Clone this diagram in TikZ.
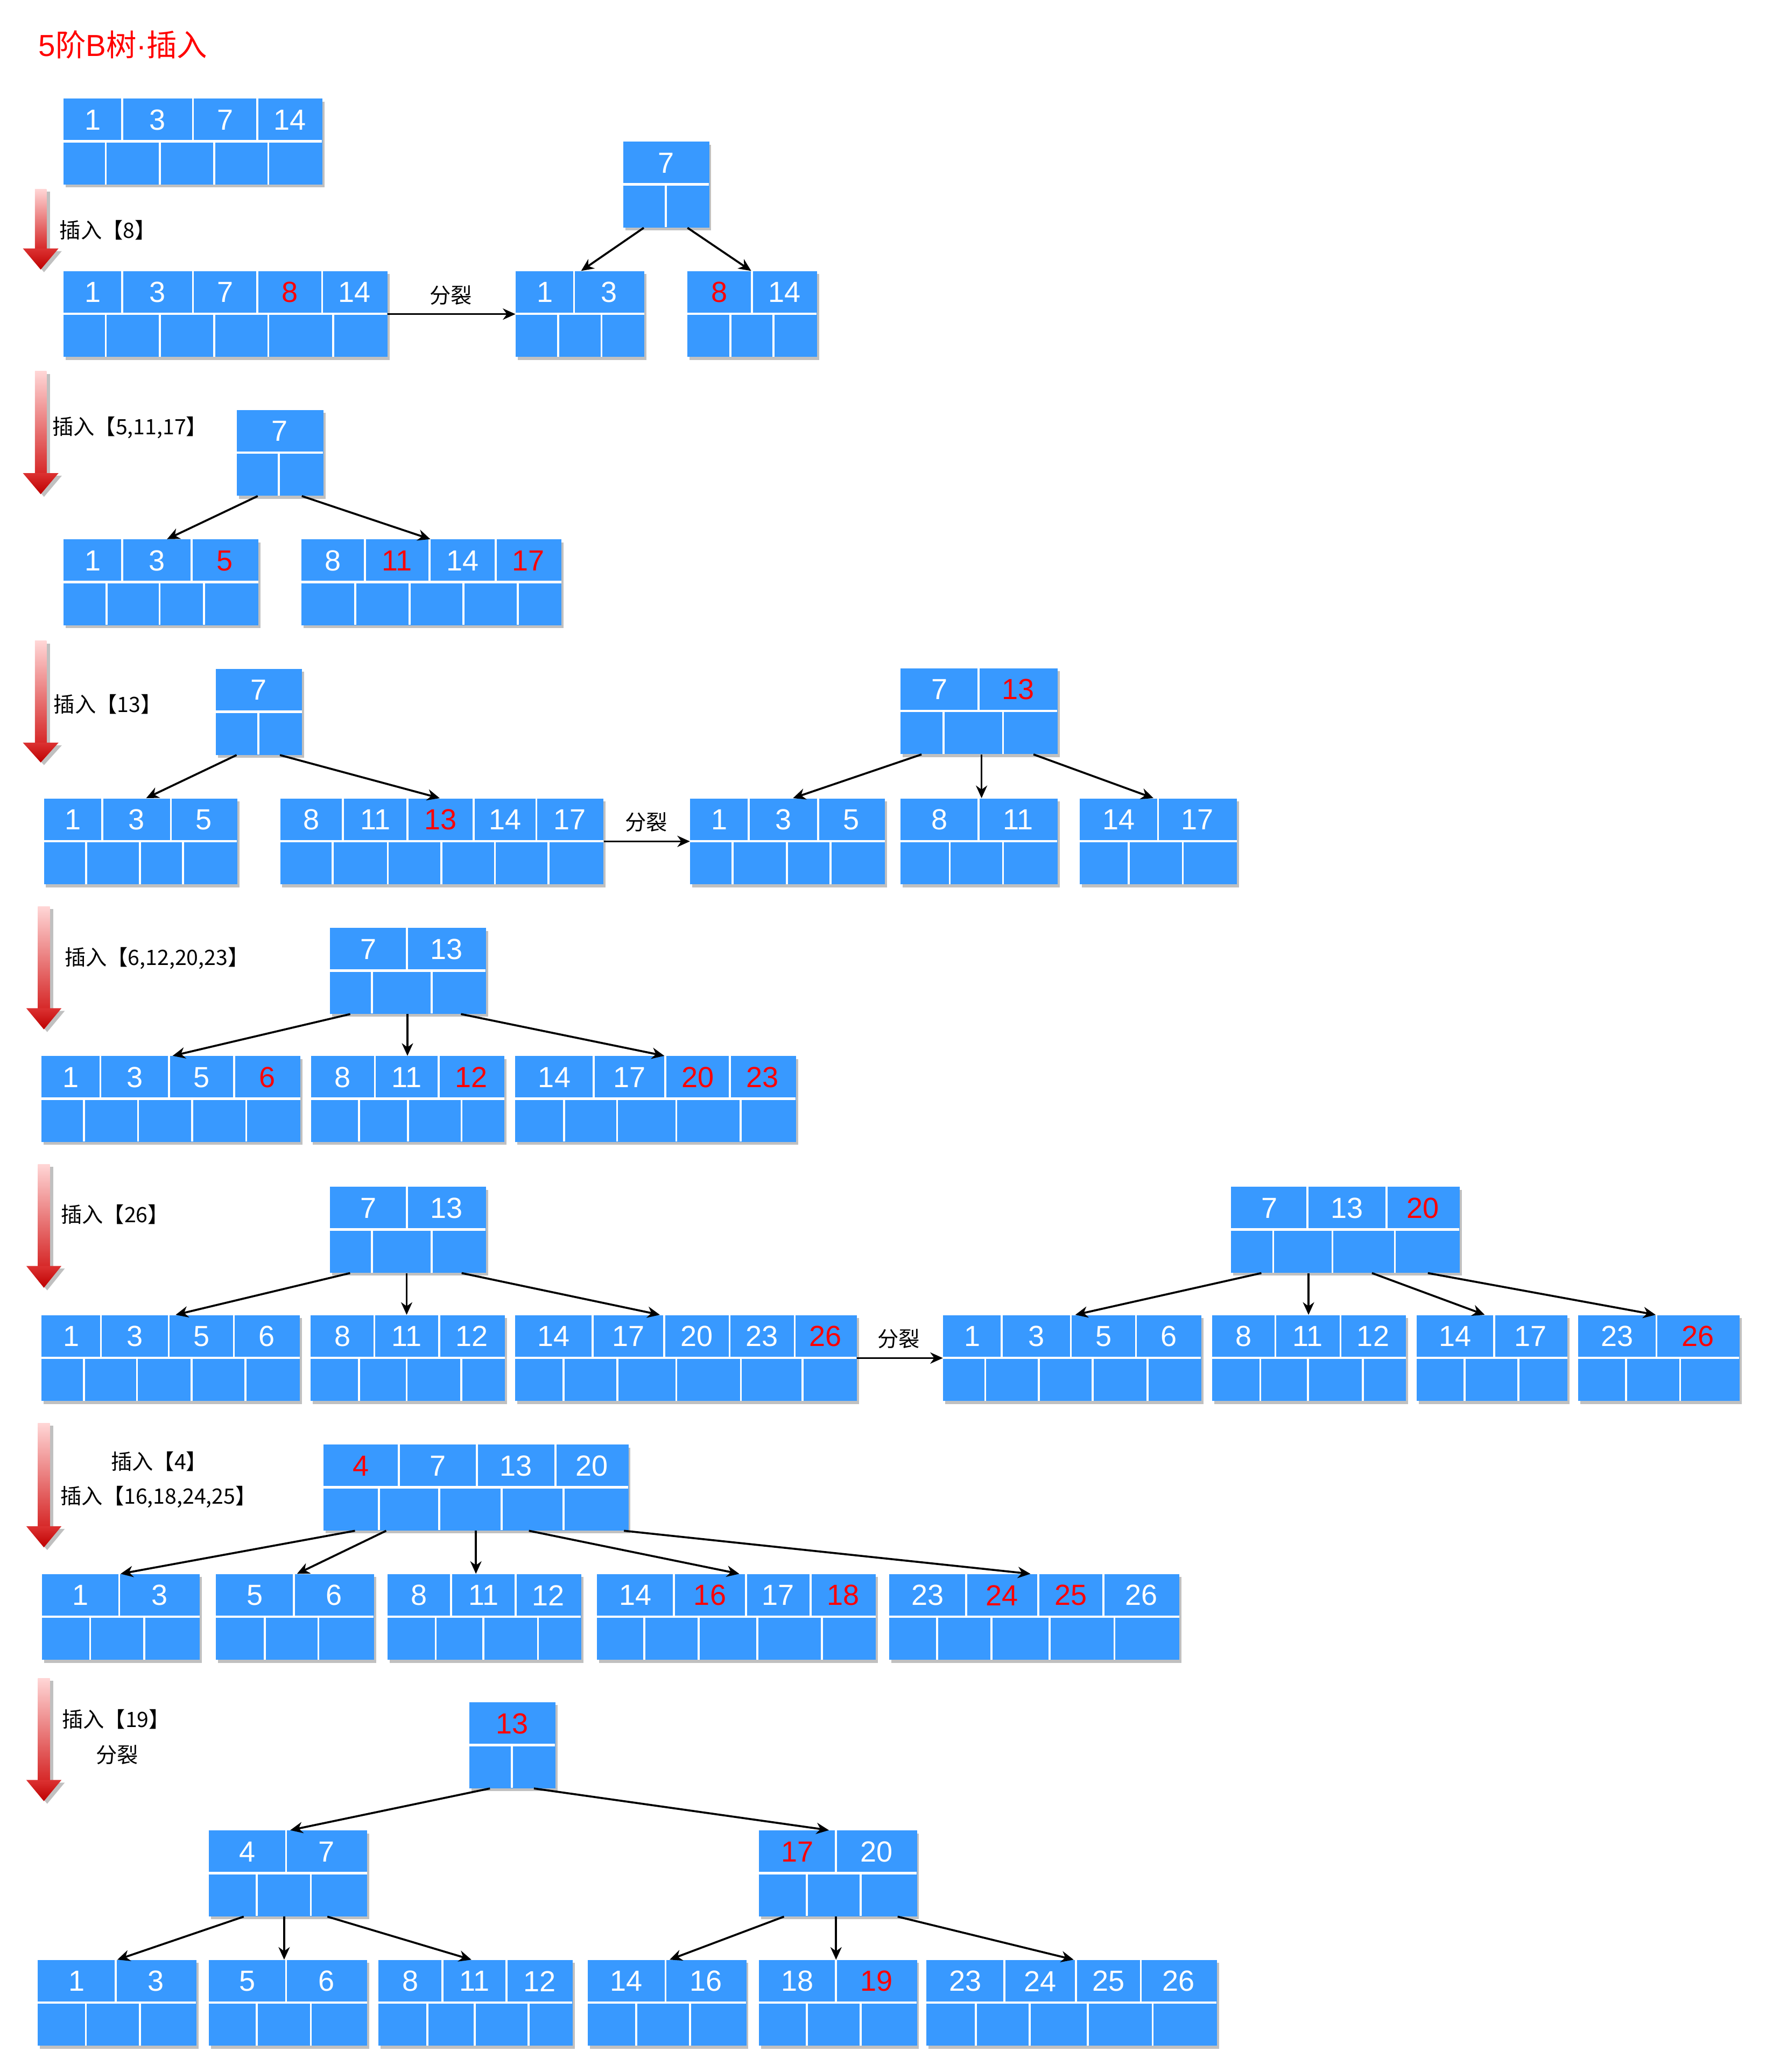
\documentclass[tikz,border=0pt]{standalone}
\usepackage{fontspec}
\newfontfamily\numfont{Liberation Sans}
\newfontfamily\cjkfont{Noto Sans CJK SC}
\usetikzlibrary{arrows.meta,shadows}
\definecolor{nodeblue}{RGB}{56,153,255}
\definecolor{shgrey}{RGB}{192,192,192}
\definecolor{keyred}{RGB}{255,0,0}
\definecolor{arrtop}{RGB}{255,214,214}
\definecolor{arrmid}{RGB}{214,40,40}
\definecolor{headtop}{RGB}{220,50,50}
\definecolor{headbot}{RGB}{190,0,0}
\newcommand\redk[1]{\textcolor{keyred}{#1}}
\tikzset{
  btbox/.style={rectangle, fill=nodeblue, draw=none, inner sep=0pt, anchor=north west,
    drop shadow={shadow xshift=1.6pt, shadow yshift=-2.2pt, fill=shgrey, opacity=1}},
  keytxt/.style={text=white, font=\numfont\fontsize{22}{24}\selectfont, inner sep=0pt},
  sepline/.style={white, line width=1.5pt},
  hsep/.style={white, line width=1.9pt},
  conn/.style={black, line width=1.5pt, -{Stealth[length=9.5pt,width=8.5pt,inset=3pt]}},
  lbl/.style={font=\cjkfont\fontsize{16}{18}\selectfont, inner sep=0pt, anchor=west},
}
% #1 name, #2 x1, #3 x2, #4 top y, #5 key cells l/r/text, #6 pointer dividers
\newcommand\btnode[6]{%
  \node[btbox, minimum width={(#3)-(#2)}, minimum height=65] (#1) at (#2,#4) {};
  \foreach \kl/\kr/\kt in {#5}{%
    \node[keytxt] at ({(\kl+\kr)/2},#4+16.25) {\kt};
    \pgfmathtruncatemacro\isin{\kr<(#3)-0.5}%
    \ifnum\isin=1 \draw[sepline] (\kr,#4) -- (\kr,#4+32.5);\fi
  }
  \draw[hsep] (#2,#4+32.5) -- (#3,#4+32.5);
  \foreach \pp in {#6}{\draw[sepline] (\pp,#4+32.5) -- (\pp,#4+65);}
}
% #1 cx, #2 top, #3 head base, #4 tip, #5 half shaft, #6 half head
\newcommand\redarrow[6]{%
  \fill[shgrey] (#1-#5+2.5,#2+2) rectangle (#1+#5+2.5,#3+2);
  \fill[shgrey] (#1-#6+2.5,#3+2) -- (#1+#6+2.5,#3+2) -- (#1+2.5,#4+2) -- cycle;
  \shade[top color=arrtop, bottom color=arrmid] (#1-#5,#2) rectangle (#1+#5,#3+0.5);
  \shade[top color=headtop, bottom color=headbot] (#1-#6,#3) -- (#1+#6,#3) -- (#1,#4) -- cycle;
}
\begin{document}
\begin{tikzpicture}[x=1pt,y=-1pt]
\useasboundingbox (0,0) rectangle (1336,1568);

% title
\node[font=\cjkfont\fontsize{23}{26}\selectfont, text=keyred, inner sep=0pt, anchor=west] (title) at (29,34) {{\numfont 5}阶{\numfont B}树{\numfont ·}插入};

% red step arrows
\redarrow{30.8}{143}{188}{204}{4.4}{13.5}
\redarrow{30.8}{281}{358}{374}{4.4}{13.5}
\redarrow{30.8}{485}{562}{577}{4.4}{13.5}
\redarrow{33.2}{686}{763}{779}{4.5}{13.3}
\redarrow{33.2}{881}{958}{974.5}{4.5}{13.3}
\redarrow{33.2}{1077}{1155}{1171}{4.5}{13.3}
\redarrow{33.2}{1270}{1347}{1363}{4.5}{13.3}

% step labels
\node[lbl] (t1) at (45,174) {插入【8】};
\node[lbl] (t2) at (39.4,323.5) {插入【5,11,17】};
\node[lbl] (t3) at (40.5,533) {插入【13】};
\node[lbl] (t4) at (48.7,725) {插入【6,12,20,23】};
\node[lbl] (t5) at (45.9,919) {插入【26】};
\node[lbl] (t6a) at (83.8,1106) {插入【4】};
\node[lbl] (t6b) at (45.6,1133) {插入【16,18,24,25】};
\node[lbl] (t7a) at (46.7,1301) {插入【19】};
\node[lbl] (t7b) at (72.3,1328) {分裂};

% row 0
\btnode{A}{48}{243.7}{74.5}{48/92.5/1, 92.5/146/3, 146/194.6/7, 194.6/243.7/14}{80,121,162,203}
% row 1
\btnode{B}{48}{293}{205}{48/92.5/1, 92.5/146/3, 146/194.6/7, 194.6/243.7/\redk{8}, 243.7/293/14}{80,121,162,203,252}
\btnode{E}{471.3}{536.4}{107}{471.3/536.4/7}{503.9}
\btnode{C}{390}{487.5}{205}{390/434.4/1, 434.4/487.5/3}{422.4,455.1}
\btnode{D}{520}{618}{205}{520/569/\redk{8}, 569/618/14}{552.6,585.3}
% row 2
\btnode{F}{179}{244.5}{310}{179/244.5/7}{211}
\btnode{G}{48}{195.4}{408}{48/92.5/1, 92.5/145/3, 145/195.4/\redk{5}}{80.5,120.7,154.3}
\btnode{H}{228}{424.7}{408}{228/276/8, 276/325/\redk{11}, 325/375/14, 375/424.7/\redk{17}}{268.7,310,350.6,391.7}
% row 3
\btnode{I}{163.2}{228.3}{506}{163.2/228.3/7}{195.6}
\btnode{J}{33}{179.4}{604}{33/77.3/1, 77.3/129.3/3, 129.3/179.4/5}{65.1,105.9,138.6}
\btnode{K}{211.8}{456.4}{604}{211.8/259.5/8, 259.5/308.4/11, 308.4/358.3/\redk{13}, 358.3/405.9/14, 405.9/456.4/17}{251.7,293.5,334,374.5,415}
\btnode{M}{681}{800}{505.5}{681/740.5/7, 740.5/800/\redk{13}}{713.9,759}
\btnode{L}{522}{669.4}{604}{522/566.5/1, 566.5/619/3, 619/669.4/5}{554.3,595.4,628.3}
\btnode{N}{681}{800}{604}{681/740.5/8, 740.5/800/11}{718.6,759}
\btnode{O}{816.7}{935.8}{604}{816.7/876.2/14, 876.2/935.8/17}{854,895}
% row 4
\btnode{P}{249.4}{367.5}{702}{249.4/307.9/7, 307.9/367.5/13}{281.4,326.6}
\btnode{Q}{31.2}{227.2}{799}{31.2/76/1, 76/127.8/3, 127.8/177.3/5, 177.3/227.2/\redk{6}}{63.5,104.4,145.4,186.3}
\btnode{R}{235}{381.5}{799}{235/283.7/8, 283.7/332/11, 332/381.5/\redk{12}}{271.6,308.6,349.2}
\btnode{S}{389.7}{602}{799}{389.7/449.3/14, 449.3/503.5/17, 503.5/552.2/\redk{20}, 552.2/602/\redk{23}}{426.7,466.9,511.7,560.4}
% row 5
\btnode{P5}{249.4}{367.5}{898}{249.4/307.9/7, 307.9/367.5/13}{281.4,326.6}
\btnode{Q5}{31.3}{226.7}{995}{31.3/76.3/1, 76.3/127.7/3, 127.7/177/5, 177/226.7/6}{63.4,103.7,144.9,185.6}
\btnode{R5}{234.9}{381.9}{995}{234.9/283.3/8, 283.3/332.2/11, 332.2/381.9/12}{271.7,307.7,348.9}
\btnode{S5}{389.6}{648}{995}{389.6/448.3/14, 448.3/502.7/17, 502.7/552/20, 552/601.3/23, 601.3/648/\redk{26}}{426.4,467.2,511.7,560.6,607.3}
\btnode{U}{931.4}{1104.2}{898}{931.4/989.3/7, 989.3/1049.2/13, 1049.2/1104.2/\redk{20}}{963.4,1008.2,1055.4}
\btnode{T}{713.4}{908.8}{995}{713.4/757.8/1, 757.8/810.3/3, 810.3/859.6/5, 859.6/908.8/6}{745.5,786.1,826.7,868.2}
\btnode{V}{917}{1063.6}{995}{917/965/8, 965/1014.3/11, 1014.3/1063.6/12}{953.6,989.7,1031.2}
\btnode{W}{1071.8}{1185.9}{995}{1071.8/1130.5/14, 1130.5/1185.9/17}{1108.3,1149}
\btnode{X}{1194.1}{1316}{995}{1194.1/1253.3/23, 1253.3/1316/\redk{26}}{1230.3,1271.3}
% row 6
\btnode{Y}{244.6}{475.3}{1093}{244.6/301.7/\redk{4}, 301.7/360.8/7, 360.8/420.3/13, 420.3/475.3/20}{286.8,332.4,379.7,426.4}
\btnode{Ya}{31.4}{151}{1191}{31.4/90.2/1, 90.2/151/3}{68.2,109.1}
\btnode{Yb}{163.2}{282.8}{1191}{163.2/222.3/5, 222.3/282.8/6}{200.3,240.9}
\btnode{Yc}{292.9}{439.5}{1191}{292.9/341.4/8, 341.4/390.3/11, 390.3/439.5/12}{329.7,365.6,407}
\btnode{Yd}{451.4}{662.5}{1191}{451.4/510/14, 510/564.4/\redk{16}, 564.4/613.4/17, 613.4/662.5/\redk{18}}{487.5,528.6,573.1,621.8}
\btnode{Ye}{672.5}{892.3}{1191}{672.5/731/23, 731/785.5/\redk{24}, 785.5/835/\redk{25}, 835/892.3/26}{709,750.2,794.2,843.3}
% row 7
\btnode{Z}{354.8}{420}{1288}{354.8/420/\redk{13}}{387.2}
\btnode{ZL}{158}{277.6}{1385}{158/216.5/4, 216.5/277.6/7}{194.4,235.2}
\btnode{ZR}{574.1}{693.6}{1385}{574.1/632.6/\redk{17}, 632.6/693.6/20}{610.5,651.2}
\btnode{Z1}{28.3}{148.3}{1483}{28.3/87.5/1, 87.5/148.3/3}{65,106}
\btnode{Z2}{158}{277.6}{1483}{158/216.5/5, 216.5/277.6/6}{194.4,235.2}
\btnode{Z3}{286.3}{433}{1483}{286.3/334.9/8, 334.9/383.2/11, 383.2/433/12}{323.4,359.2,400}
\btnode{Z4}{444.4}{564.5}{1483}{444.4/503.6/14, 503.6/564.5/16}{481.5,522.1}
\btnode{Z5}{574.1}{693.6}{1483}{574.1/632.6/18, 632.6/693.6/\redk{19}}{610.5,651.2}
\btnode{Z6}{700.7}{920.5}{1483}{700.7/759.9/23, 759.9/814.2/24, 814.2/863.2/25, 863.2/920.5/26}{738.4,779,823.2,872.2}

% split arrows and labels
\draw[conn] (B.east) -- (C.west);
\node[lbl, anchor=center] (s1) at (341,223.5) {分裂};
\draw[conn] (K.east) -- (L.west);
\node[lbl, anchor=center] (s3) at (489,622) {分裂};
\draw[conn] (S5.east) -- (T.west);
\node[lbl, anchor=center] (s5) at (680,1013) {分裂};

% tree connectors
\draw[conn] (E.south -| 487.1,0) -- (C.north -| 439.7,0);
\draw[conn] (E.south -| 520.2,0) -- (D.north -| 568.4,0);

\draw[conn] (F.south -| 195,0) -- (G.north -| 126.4,0);
\draw[conn] (F.south -| 228.4,0) -- (H.north -| 325.6,0);

\draw[conn] (I.south -| 179,0) -- (J.north -| 110.6,0);
\draw[conn] (I.south -| 211.8,0) -- (K.north -| 332.7,0);
\draw[conn] (M.south -| 697.3,0) -- (L.north -| 600,0);
\draw[conn] (M.south -| 742.7,0) -- (N.north -| 742.7,0);
\draw[conn] (M.south -| 782,0) -- (O.north -| 872.8,0);

\draw[conn] (P.south -| 265,0) -- (Q.north -| 130.6,0);
\draw[conn] (P.south -| 308.3,0) -- (R.north -| 308.3,0);
\draw[conn] (P.south -| 348.8,0) -- (S.north -| 502.7,0);

\draw[conn] (P5.south -| 264.9,0) -- (Q5.north -| 132.9,0);
\draw[conn] (P5.south -| 307.7,0) -- (R5.north -| 307.7,0);
\draw[conn] (P5.south -| 349.3,0) -- (S5.north -| 499.3,0);
\draw[conn] (U.south -| 954.4,0) -- (T.north -| 813.6,0);
\draw[conn] (U.south -| 990.1,0) -- (V.north -| 990.1,0);
\draw[conn] (U.south -| 1038.1,0) -- (W.north -| 1123.5,0);
\draw[conn] (U.south -| 1080.4,0) -- (X.north -| 1252.8,0);

\draw[conn] (Y.south -| 268.6,0) -- (Ya.north -| 91.2,0);
\draw[conn] (Y.south -| 292.2,0) -- (Yb.north -| 224.7,0);
\draw[conn] (Y.south -| 360.1,0) -- (Yc.north -| 360.1,0);
\draw[conn] (Y.south -| 400.2,0) -- (Yd.north -| 559.4,0);
\draw[conn] (Y.south -| 472.1,0) -- (Ye.north -| 779.7,0);

\draw[conn] (Z.south -| 370.7,0) -- (ZL.north -| 219.6,0);
\draw[conn] (Z.south -| 404,0) -- (ZR.north -| 627.2,0);
\draw[conn] (ZL.south -| 184.4,0) -- (Z1.north -| 88.8,0);
\draw[conn] (ZL.south -| 215,0) -- (Z2.north -| 215,0);
\draw[conn] (ZL.south -| 247.7,0) -- (Z3.north -| 356.7,0);
\draw[conn] (ZR.south -| 593.2,0) -- (Z4.north -| 506.6,0);
\draw[conn] (ZR.south -| 632.6,0) -- (Z5.north -| 632.6,0);
\draw[conn] (ZR.south -| 679.2,0) -- (Z6.north -| 812.4,0);
\end{tikzpicture}
\end{document}
